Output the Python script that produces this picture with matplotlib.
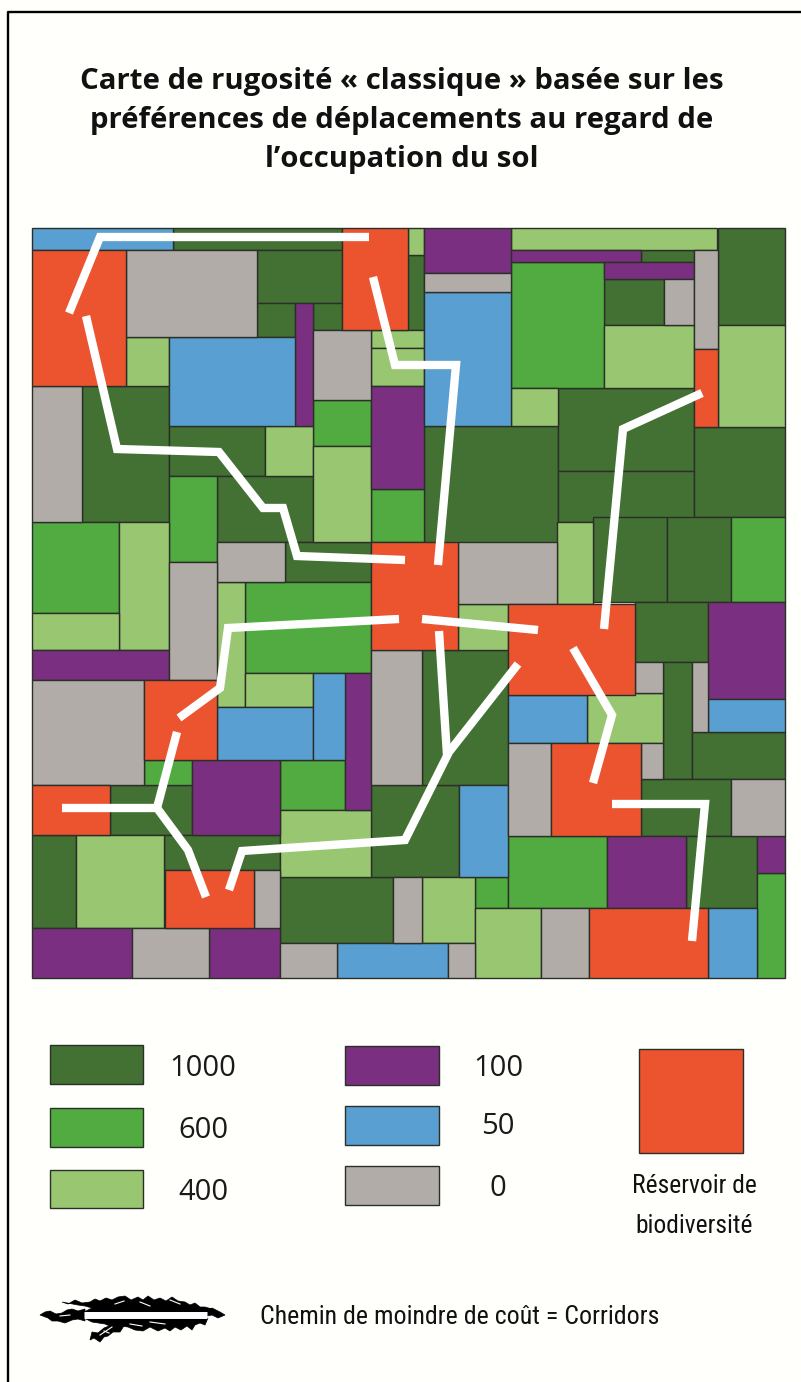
import matplotlib
matplotlib.use('Agg')
from matplotlib import pyplot as plt
from matplotlib.patches import Rectangle
from matplotlib import font_manager

dark_blocks = [
    (173,228,342,250), (257,250,342,303), (257,303,295,337), (313,303,342,330),
    (82,386,169,522), (169,426,265,476), (217,476,313,542), (285,542,371,582),
    (110,785,192,835), (32,835,76,928), (164,835,280,870), (280,877,393,943),
    (371,785,459,877), (422,650,508,785), (408,255,424,330), (424,426,558,543),
    (641,250,694,262), (604,279,664,325), (718,228,785,325), (558,388,694,471),
    (558,471,694,522), (694,427,785,517), (593,517,667,602), (667,517,731,602),
    (635,602,708,662), (663,662,692,779), (692,732,785,779), (641,779,731,836),
    (686,836,757,908),
]
green_blocks = [
    (313,400,371,446), (169,476,217,562), (32,522,119,613), (245,582,371,673),
    (144,760,192,785), (280,760,345,810), (371,489,424,542), (511,262,604,388),
    (731,517,785,602), (475,877,508,908), (508,836,607,908), (757,873,785,978),
]
light_blocks = [
    (126,337,169,386), (265,426,313,476), (313,446,371,542), (119,522,169,650),
    (32,613,119,650), (217,582,245,707), (245,673,313,707), (76,835,164,928),
    (280,810,371,877), (408,228,424,255), (371,330,424,348), (371,348,424,386),
    (511,388,558,426), (511,228,717,250), (604,325,694,388), (718,325,785,427),
    (557,522,593,604), (458,604,508,650), (422,877,475,943), (475,908,541,978),
    (587,693,663,743),
]
purple_blocks = [
    (295,303,313,426), (32,650,169,680), (345,673,371,810), (192,760,280,835),
    (32,928,132,978), (209,928,280,978), (424,228,511,273), (371,386,424,489),
    (511,250,641,262), (604,262,694,279), (708,602,785,699), (607,836,686,908),
    (757,836,785,873),
]
blue_blocks = [
    (32,228,173,250), (169,337,295,426), (217,707,313,760), (313,673,345,760),
    (337,943,448,978), (424,292,511,426), (459,785,508,877), (508,695,587,743),
    (708,699,785,732), (708,908,757,978),
]
gray_blocks = [
    (126,250,257,337), (313,330,371,400), (32,386,82,522), (217,542,285,582),
    (169,562,217,680), (32,680,144,785), (254,870,280,928), (132,928,209,978),
    (280,943,337,978), (393,877,422,943), (448,943,475,978), (371,650,422,785),
    (458,542,557,604), (424,273,511,292), (664,279,694,325), (694,250,718,349),
    (635,662,663,693), (692,662,708,732), (641,743,663,779), (508,743,551,836),
    (731,779,785,836), (541,908,589,978),
]
red_blocks = [
    (32,250,126,386), (342,228,408,330), (371,542,458,650), (144,680,217,760),
    (32,785,110,835), (165,870,254,928), (694,349,718,427), (508,604,635,695),
    (551,743,641,836), (589,908,708,978),
]

corridors = [
    [(369,237), (100,237), (69,313)],
    [(86,316), (117,449), (219,452), (263,508), (283,508), (297,556), (405,560)],
    [(373,277), (395,365), (456,365), (438,565)],
    [(702,393), (623,429), (604,629)],
    [(399,619), (228,628), (220,688), (179,718)],
    [(177,732), (157,808)],
    [(62,808), (157,808), (188,850), (206,897)],
    [(229,890), (242,851), (405,840), (449,752), (518,664)],
    [(439,631), (447,755)],
    [(422,619), (538,630)],
    [(573,648), (612,715), (593,783)],
    [(612,804), (705,804), (692,941)],
]

legend_labels = ['1000', '600', '400', '100', '50', '0']
title_lines = ['Carte de rugosité « classique » basée sur les',
               'préférences de déplacements au regard de',
               'l’occupation du sol']

# outlines of the brush mark in the legend
scribble = [
    [(62,1302),(68,1304),(75,1300),(82,1303),(90,1302),(95,1299),(100,1301),(106,1298),(112,1300),(118,1297),
     (125,1296),(131,1300),(138,1297),(143,1300),(148,1296),(154,1300),(160,1298),(166,1301),(172,1297),(178,1301),
     (185,1302),(190,1305),(195,1303),(200,1307),(205,1307),(212,1309),(207,1312),(84,1312),(92,1308),(85,1306),(78,1305)],
    [(40,1315),(45,1312),(50,1311),(56,1314),(62,1313),(67,1310),(72,1309),(78,1311),(85,1309),(85,1321),
     (78,1319),(72,1320),(65,1323),(58,1321),(52,1321),(48,1318)],
    [(84,1318),(208,1318),(205,1325),(200,1323),(195,1325),(192,1330),(187,1326),(181,1330),(175,1327),(170,1331),
     (165,1328),(158,1331),(150,1327),(143,1331),(135,1330),(128,1327),(120,1326),(112,1327),(105,1324),(92,1322)],
    [(92,1332),(98,1333),(104,1328),(109,1326),(115,1322),(125,1324),(122,1329),(120,1332),(113,1332),(108,1336),
     (104,1337),(100,1342),(94,1338),(90,1340)],
    [(207,1310),(212,1308),(216,1310),(220,1312),(225,1315),(218,1318),(212,1315),(207,1316)],
]
scribble_white = [(84,1315), (207,1315)]
scribble_flecks = [[(100,1335),(112,1327)], [(104,1331),(109,1333)], [(140,1302),(150,1306)], [(115,1304),(124,1301)],
                   [(150,1322),(165,1324)], [(170,1300),(180,1304)], [(60,1316),(70,1315)], [(130,1324),(142,1326)]]

colors = {'dark': '#437033', 'green': '#52ab40', 'light': '#99c671',
          'purple': '#7b2f80', 'blue': '#5a9fd2', 'gray': '#b2aca8', 'red': '#ec5430'}

names = {f.name for f in font_manager.fontManager.ttflist}
narrow = 'Roboto Condensed' if 'Roboto Condensed' in names else 'Open Sans'

fig = plt.figure(figsize=(8.01, 13.82), dpi=100, facecolor='#fffffb')
ax = fig.add_axes([0, 0, 1, 1])
ax.set_xlim(0, 801)
ax.set_ylim(1382, 0)
ax.axis('off')

def block(b, name, lw=1.0):
    ax.add_patch(Rectangle((b[0], b[1]), b[2]-b[0], b[3]-b[1], fc=colors[name],
                           ec='#2a2f28', lw=lw, joinstyle='miter'))

# page frame, open on the right
ax.plot([8, 8, 801], [1382, 12, 12], color='black', lw=1.7)

for y, line in zip([81, 120, 159], title_lines):
    ax.text(402, y, line, ha='center', va='center', fontsize=21.2, fontweight='bold',
            family='Open Sans', color='#111111')

for name, blocks in [('dark', dark_blocks), ('green', green_blocks), ('light', light_blocks),
                     ('purple', purple_blocks), ('blue', blue_blocks), ('gray', gray_blocks),
                     ('red', red_blocks)]:
    for b in blocks:
        block(b, name)

for c in corridors:
    ax.plot([p[0] for p in c], [p[1] for p in c], color='white', lw=6,
            solid_capstyle='butt', solid_joinstyle='miter')

# legend
block((50,1045,143,1084), 'dark')
block((50,1108,143,1147), 'green')
block((50,1170,143,1208), 'light')
block((345,1046,439,1085), 'purple')
block((345,1106,439,1145), 'blue')
block((345,1166,439,1205), 'gray')
block((639,1049,743,1153), 'red')

label_pos = [(203,1069), (203,1131), (203,1193), (498,1069), (498,1127), (498,1189)]
for lab, pos in zip(legend_labels, label_pos):
    ax.text(pos[0], pos[1], lab, ha='center', va='center', fontsize=21, family='Open Sans', color='#1a1a1a')
ax.text(694, 1186, 'Réservoir de', ha='center', va='center', fontsize=18.4, family=narrow, color='#111111')
ax.text(694, 1226, 'biodiversité', ha='center', va='center', fontsize=18.4, family=narrow, color='#111111')
ax.text(260, 1317, 'Chemin de moindre de coût = Corridors', ha='left', va='center', fontsize=18.6,
        family=narrow, color='#111111')

for s in scribble:
    ax.fill([p[0] for p in s], [p[1] for p in s], color='black', lw=0.5)
ax.plot([p[0] for p in scribble_white], [p[1] for p in scribble_white], color='white', lw=5,
        solid_capstyle='butt')
for f in scribble_flecks:
    ax.plot([p[0] for p in f], [p[1] for p in f], color='white', lw=0.8)

fig.savefig('out.png', dpi=100, facecolor=fig.get_facecolor())
